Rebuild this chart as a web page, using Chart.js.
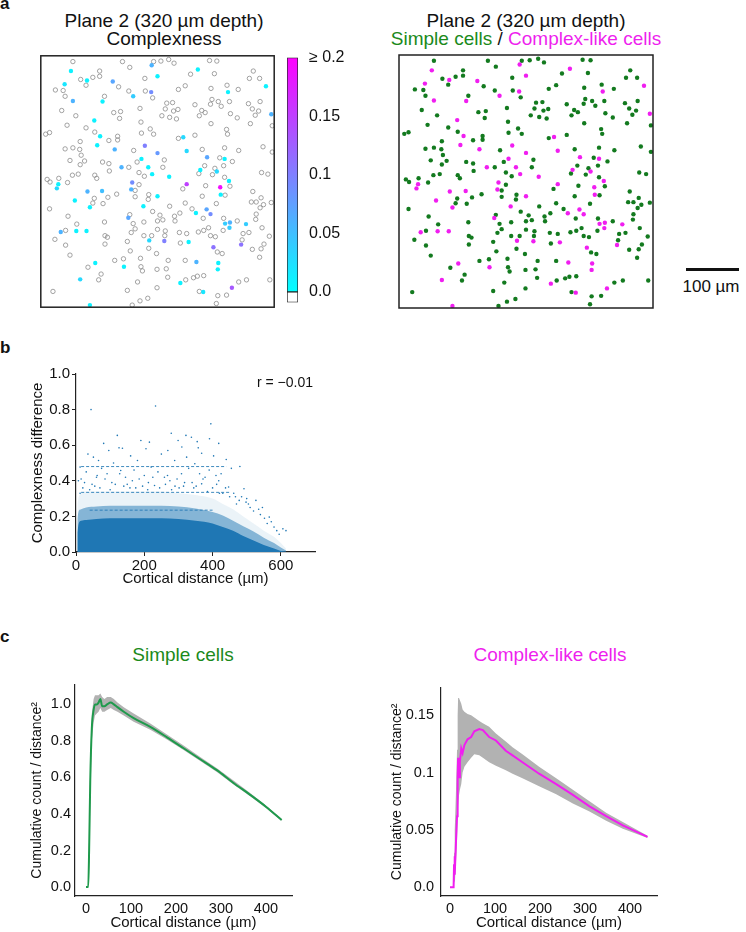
<!DOCTYPE html>
<html>
<head>
<meta charset="utf-8">
<script src="https://cdn.jsdelivr.net/npm/chart.js@4.4.1/dist/chart.umd.min.js"></script>
<style>
  body { margin: 0; background: #fff; font-family: 'Liberation Sans', Arial, sans-serif; color: #111; }
  #page { position: relative; width: 746px; height: 932px; overflow: hidden; }
  .abs { position: absolute; }
  .letter { font-weight: bold; font-size: 17px; line-height: 17px; }
  .title { font-size: 19px; line-height: 18px; text-align: center; white-space: nowrap; }
</style>
</head>
<body>
<div id="page">
  <div class="abs letter" style="left:0px;top:-5px">a</div>
  <div class="abs letter" style="left:0px;top:339px">b</div>
  <div class="abs letter" style="left:0px;top:628px">c</div>

  <div class="abs title" style="left:14px;top:12px;width:300px">Plane 2 (320 µm depth)<br>Complexness</div>
  <div class="abs title" style="left:376px;top:12px;width:300px">Plane 2 (320 µm depth)<br><span style="color:#1b8a1b">Simple cells</span> / <span style="color:#ee1fee">Complex-like cells</span></div>

  <canvas id="mapComplexness" class="abs" style="left:36px;top:51px" width="243" height="261"></canvas>
  <canvas id="colorbar" class="abs" style="left:285px;top:45px" width="60" height="270"></canvas>
  <canvas id="mapTypes" class="abs" style="left:395px;top:51px" width="262" height="261"></canvas>

  <div id="scaleBar" class="abs" style="left:686px;top:268px;height:3px;width:54px;background:#111"></div>
  <div class="abs" style="left:661px;top:278px;width:100px;text-align:center;font-size:17px;line-height:17px">100 µm</div>

  <canvas id="pairs" class="abs" style="left:0px;top:363px" width="330" height="225"></canvas>
  <div class="abs" style="left:213px;top:375px;width:100px;text-align:right;font-size:14px;line-height:14px">r = −0.01</div>

  <div class="abs title" style="left:33px;top:645px;width:300px;line-height:19px;color:#1b8a1b">Simple cells</div>
  <div class="abs title" style="left:400px;top:645px;width:300px;line-height:19px;color:#ee1fee">Complex-like cells</div>
  <canvas id="densSimple" class="abs" style="left:0px;top:672px" width="300" height="260"></canvas>
  <canvas id="densComplex" class="abs" style="left:373px;top:672px" width="300" height="260"></canvas>
</div>

<script>
// ---- panel a: cell positions in the imaging plane (µm) ----
const simpleX = [66,121,82,107,121,93,30,46,50,131,160,168,183,232,214,181,215,230,43,72,150,164,162,204,54,93,10,18,111,206,207,225,232,158,158,140,81,50,66,80,83,90,81,60,191,127,140,181,198,141,65,77,111,115,202,213,13,37,
  247,263,274,347,362,308,357,437,429,450,283,297,350,383,406,352,349,365,371,388,317,331,338,326,390,404,350,259,271,256,273,282,249,265,279,427,451,435,448,441,431,476,382,384,317,283,332,378,407,457,476,254,251,368,394,337,358,376,325,353,378,454,467,
  19,55,202,194,110,138,156,107,128,18,194,222,221,230,56,183,131,74,190,212,240,51,194,186,132,137,212,228,240,29,178,51,132,222,184,238,60,152,170,205,97,206,209,239,124,119,199,25,178,239,204,220,188,
  339,292,389,379,332,436,453,433,443,458,474,451,265,297,311,286,275,276,245,251,361,334,376,404,443,442,455,256,255,285,300,324,335,345,349,359,375,416,428,414,470,287,363,373,435,453,459,450,262,297,258,261,298,314,322,335,407,423,471,326,364,382,361];
const simpleY = [467,449,433,437,439,422,413,412,401,401,419,467,456,467,435,411,411,398,374,364,370,372,359,378,346,341,329,332,333,352,331,339,329,325,318,317,315,301,303,300,289,278,271,279,298,276,273,266,276,259,251,253,251,245,256,249,243,245,
  468,471,464,469,468,443,444,449,435,435,414,421,416,422,414,395,386,391,382,391,385,374,370,364,368,360,349,388,389,377,373,376,364,361,358,387,391,377,373,365,349,345,338,329,327,321,300,303,298,305,295,280,266,284,277,269,264,269,254,252,247,256,253,
  238,237,233,222,207,209,215,198,197,187,210,214,205,182,173,176,162,158,159,162,164,146,149,142,136,133,136,136,148,129,125,118,120,112,107,102,99,89,92,93,76,77,69,72,63,52,48,30,32,37,12,17,4,
  231,225,230,213,211,220,208,200,200,195,199,189,192,198,187,179,173,164,175,166,197,169,169,164,177,167,151,145,136,142,140,143,146,151,136,134,146,140,142,128,135,122,105,102,110,111,120,95,89,89,73,57,52,56,59,60,48,52,52,30,22,23,7];
const complexX = [62,95,49,66,127,148,228,240,190,227,110,122,116,152,214,240,166,207,221,229,
  323,463,385,474,293,300,342,378,328,362,387,264,
  36,33,188,186,96,126,101,70,240,211,180,41,73,94,223,112,171,81,101,
  300,369,370,319,341,349,379,389,388,422,254,304,355,412,320,365,364,287,393,334];
const complexY = [449,431,424,392,391,429,460,439,401,409,355,325,308,300,307,293,266,282,266,253,
  452,420,409,367,323,297,285,282,261,258,240,248,
  234,226,237,224,220,221,190,203,211,192,170,143,145,145,127,84,77,53,4,
  234,228,214,179,186,177,159,161,151,158,126,124,114,119,86,84,72,46,37,29];
const complexValue = [0.01,0.01,0.02,0.06,0.01,0.07,0.06,0.01,0.04,0.09,0.01,0.01,0.01,0.06,0.1,0.08,0.06,0.01,0.01,0.01,
  0.01,0.01,0.01,0.06,0.03,0.03,0.07,0.01,0.01,0.03,0.01,0.01,
  0.01,0.03,0.09,0.06,0.06,0.05,0.01,0.01,0.01,0.01,0.07,0.06,0.01,0.01,0.03,0.01,0.01,0.03,0.01,
  0.15,0.19,0.01,0.01,0.07,0.09,0.04,0.06,0.04,0.04,0.1,0.01,0.11,0.11,0.06,0.01,0.01,0.01,0.13,0.02];
const colorbarTicks = [0, 0.05, 0.1, 0.15, 0.2];
const colorbarLabels = ['0.0', '0.05', '0.1', '0.15', '≥ 0.2'];

// ---- panel b: pairwise complexness difference vs distance ----
const pairDist = [4, 8, 15, 30, 60, 100, 150, 200, 250, 300, 350, 400, 430, 460, 490, 520, 550, 580, 600, 615];
const pairCoreTop = [0.11, 0.16, 0.175, 0.18, 0.185, 0.19, 0.19, 0.19, 0.19, 0.185, 0.175, 0.16, 0.14, 0.12, 0.09, 0.065, 0.04, 0.02, 0.006, 0];
const pairHaloTop = [0.19, 0.23, 0.24, 0.25, 0.255, 0.26, 0.26, 0.26, 0.26, 0.255, 0.245, 0.225, 0.205, 0.175, 0.145, 0.115, 0.08, 0.05, 0.025, 0.008];
const pairOuterTop = [0.27, 0.31, 0.33, 0.34, 0.34, 0.34, 0.34, 0.34, 0.34, 0.33, 0.32, 0.3, 0.27, 0.24, 0.2, 0.16, 0.12, 0.085, 0.05, 0.02];
const sparseDist = [44,233,395,121,279,322,338,391,81,190,215,418,299,126,136,269,358,51,96,160,250,324,368,403,12,66,180,220,289,348,91,131,200,259,309,378,418,7,47,150,230,368,447,492,467,527,546,566,606,615,
  30,75,110,145,170,240,275,330,390,425,60,105,185,290,340,400,430,470,500,510,540,560,580,595,20,35,205,310,355,440,455,480,
  25,55,85,115,165,195,225,262,296,318,352,372,412,438,462,485,505,520,535,552,572,588,
  12,40,70,100,140,175,210,245,280,315,345,385,420,450,478,498,15,62,128,158,212,268,302,362,410];
const sparseDiff = [0.80,0.82,0.72,0.655,0.667,0.655,0.645,0.636,0.61,0.626,0.617,0.61,0.626,0.585,0.583,0.57,0.585,0.533,0.57,0.54,0.55,0.533,0.555,0.54,0.477,0.514,0.514,0.477,0.514,0.496,0.44,0.458,0.43,0.42,0.44,0.42,0.40,0.40,0.38,0.38,0.374,0.383,0.365,0.355,0.31,0.29,0.25,0.196,0.13,0.12,
  0.45,0.47,0.50,0.42,0.46,0.45,0.40,0.47,0.46,0.44,0.42,0.39,0.41,0.37,0.39,0.36,0.33,0.27,0.30,0.25,0.21,0.16,0.14,0.10,0.36,0.55,0.58,0.59,0.62,0.52,0.47,0.48,
  0.39,0.37,0.41,0.38,0.40,0.37,0.42,0.38,0.41,0.39,0.37,0.41,0.38,0.36,0.33,0.31,0.27,0.23,0.24,0.19,0.17,0.12,
  0.33,0.35,0.36,0.35,0.37,0.36,0.35,0.36,0.35,0.37,0.36,0.34,0.33,0.31,0.29,0.28,0.41,0.43,0.44,0.36,0.39,0.43,0.36,0.44,0.43];
const stripeDiff = [0.48, 0.335, 0.235];
const stripeFrom = [15, 15, 40];
const stripeTo = [440, 450, 400];

// ---- panel c: cumulative count / distance^2 ----
const simpleDist = [0,5,7,9.5,13,17,20,24,28,32,36,41,47,55,62,70,84,106,143,180,217,254,291,328,365,400,435];
const simpleMean = [0,0,0.2,0.58,0.87,0.97,1.0,1.0,1.01,1.03,0.99,0.99,1.0,1.01,1.0,0.985,0.96,0.925,0.877,0.82,0.76,0.70,0.64,0.57,0.505,0.44,0.367];
const simpleHigh = [0,0,0.3,0.7,0.95,1.03,1.05,1.05,1.05,1.06,1.04,1.03,1.04,1.04,1.03,1.01,0.985,0.95,0.895,0.835,0.775,0.712,0.65,0.583,0.515,0.447,0.372];
const simpleLow = [0,0,0.1,0.45,0.8,0.9,0.94,0.95,0.96,0.98,0.96,0.96,0.97,0.98,0.97,0.96,0.94,0.905,0.862,0.808,0.75,0.69,0.63,0.562,0.497,0.433,0.362];
const complexDist = [0,8,9,10,11,13,15.6,17,18,19,20,22,25,28,32,39,47,54,65,73,87,102,124,139,161,198,236,273,310,347,384,439];
const complexMean = [0,0,0.02,0.027,0.011,0.037,0.062,0.095,0.113,0.1,0.096,0.109,0.121,0.117,0.124,0.129,0.131,0.136,0.138,0.137,0.131,0.128,0.119,0.115,0.109,0.099,0.090,0.0805,0.0706,0.062,0.054,0.044];
const complexHigh = [0,0,0.03,0.04,0.05,0.08,0.12,0.15,0.165,0.165,0.165,0.165,0.16,0.155,0.153,0.151,0.15,0.148,0.145,0.143,0.14,0.134,0.127,0.122,0.116,0.105,0.095,0.085,0.075,0.065,0.057,0.045];
const complexLow = [0,0,0.005,0.01,0.005,0.02,0.04,0.06,0.07,0.075,0.08,0.085,0.09,0.1,0.105,0.109,0.113,0.116,0.115,0.113,0.109,0.106,0.102,0.099,0.095,0.088,0.081,0.073,0.066,0.058,0.051,0.043];

Chart.defaults.font.family = "'Liberation Sans', Arial, sans-serif";
Chart.defaults.color = '#111';
Chart.defaults.animation = false;
Chart.defaults.plugins.legend.display = false;
Chart.defaults.plugins.tooltip.enabled = false;

const green = '#137a1f';
const magenta = '#f01ef0';
const axisColor = '#222';

const coolColor = (v) => {
  const t = Math.min(v / 0.2, 1);
  return `rgb(${Math.round(255 * t)}, ${Math.round(255 * (1 - t))}, 255)`;
};
const pts = (xs, ys) => xs.map((x, i) => ({ x, y: ys[i] }));

const framePlugin = {
  id: 'frame',
  afterDraw(chart) {
    const { ctx, chartArea } = chart;
    ctx.save();
    ctx.strokeStyle = axisColor;
    ctx.lineWidth = 1.5;
    ctx.strokeRect(chartArea.left, chartArea.top, chartArea.right - chartArea.left, chartArea.bottom - chartArea.top);
    ctx.restore();
  }
};

const mapScales = {
  x: { type: 'linear', display: false, min: 0, max: 480 },
  y: { type: 'linear', display: false, min: 0, max: 478 },
};

// a, left: complexness map
new Chart(document.getElementById('mapComplexness'), {
  type: 'scatter',
  data: {
    datasets: [
      {
        data: pts(complexX, complexY),
        pointRadius: 2.2,
        pointBorderWidth: 0,
        pointBackgroundColor: complexValue.map(coolColor),
        clip: 0,
      },
      {
        data: pts(simpleX, simpleY),
        pointRadius: 2.2,
        pointBorderWidth: 0.8,
        pointBorderColor: '#8c8c8c',
        pointBackgroundColor: 'rgba(255,255,255,0)',
        clip: 0,
      },
    ],
  },
  options: { responsive: false, layout: { padding: 2 }, scales: mapScales },
  plugins: [framePlugin],
});

// a, colour bar
new Chart(document.getElementById('colorbar'), {
  type: 'bar',
  data: {
    labels: [''],
    datasets: [
      {
        data: [[0, 0.2]],
        backgroundColor: function(context) {
          const chart = context.chart;
          const { ctx, chartArea } = chart;
          if (!chartArea) return null;
          const y = chart.scales.y;
          const g = ctx.createLinearGradient(0, y.getPixelForValue(0), 0, y.getPixelForValue(0.2));
          g.addColorStop(0, 'rgb(0,255,255)');
          g.addColorStop(1, 'rgb(255,0,255)');
          return g;
        },
        borderColor: axisColor,
        borderWidth: 1,
        borderSkipped: false,
        grouped: false,
        barPercentage: 1,
        categoryPercentage: 1,
      },
      {
        data: [[-0.009, 0]],
        backgroundColor: '#fff',
        borderColor: axisColor,
        borderWidth: 1,
        borderSkipped: false,
        grouped: false,
        barPercentage: 1,
        categoryPercentage: 1,
      },
    ],
  },
  options: {
    responsive: false,
    layout: { padding: { left: 2, top: 8, right: 0, bottom: 8 } },
    scales: {
      x: { display: false },
      y: {
        position: 'right',
        min: -0.009,
        max: 0.2,
        grid: { display: false },
        border: { display: false },
        afterBuildTicks: (scale) => { scale.ticks = colorbarTicks.map(v => ({ value: v })); },
        afterFit: (scale) => { scale.width = 47; },
        ticks: { padding: 3, font: { size: 16 }, callback: (v, i) => colorbarLabels[i] },
      },
    },
  },
});

// a, right: simple vs complex-like map
const mapTypes = new Chart(document.getElementById('mapTypes'), {
  type: 'scatter',
  data: {
    datasets: [
      { data: pts(complexX, complexY), pointRadius: 2.2, pointBorderWidth: 0, pointBackgroundColor: magenta, clip: 0 },
      { data: pts(simpleX, simpleY), pointRadius: 2.2, pointBorderWidth: 0, pointBackgroundColor: green, clip: 0 },
    ],
  },
  options: { responsive: false, layout: { padding: 2 }, scales: mapScales },
  plugins: [framePlugin],
});
const sx = mapTypes.scales.x;
document.getElementById('scaleBar').style.width = (sx.getPixelForValue(100) - sx.getPixelForValue(0)) + 'px';

// b: complexness difference vs cortical distance
const blue = '#1f77b4';
const stripeSets = stripeDiff.map((d, i) => ({
  data: [{ x: stripeFrom[i], y: d }, { x: stripeTo[i], y: d }],
  borderColor: 'rgba(31,119,180,0.85)',
  borderWidth: 1,
  borderDash: [3, 2],
  pointRadius: 0,
  order: 0,
}));
new Chart(document.getElementById('pairs'), {
  type: 'line',
  data: {
    datasets: [
      ...stripeSets,
      { data: pts(sparseDist, sparseDiff), showLine: false, pointRadius: 0.8, pointBorderWidth: 0, pointBackgroundColor: blue, order: 1 },
      { data: pts(pairDist, pairCoreTop), borderWidth: 0, pointRadius: 0, fill: 'origin', backgroundColor: blue, order: 2 },
      { data: pts(pairDist, pairHaloTop), borderWidth: 0, pointRadius: 0, fill: 'origin', backgroundColor: 'rgba(31,119,180,0.5)', order: 3 },
      { data: pts(pairDist, pairOuterTop), borderWidth: 0, pointRadius: 0, fill: 'origin', backgroundColor: 'rgba(31,119,180,0.09)', order: 4 },
    ],
  },
  options: {
    responsive: false,
    layout: { padding: { left: 25, top: 10, right: 15, bottom: 0 } },
    elements: { line: { cubicInterpolationMode: 'monotone' } },
    scales: {
      x: {
        type: 'linear', min: 0, max: 700,
        afterBuildTicks: (scale) => { scale.ticks = [0, 200, 400, 600].map(v => ({ value: v })); },
        afterFit: (scale) => { scale.height = 36; },
        grid: { drawOnChartArea: false, tickLength: 4, color: axisColor },
        border: { color: axisColor, width: 1.2 },
        ticks: { padding: 1, font: { size: 15 }, maxRotation: 0 },
        title: { display: true, text: 'Cortical distance (µm)', font: { size: 15 }, padding: 0 },
      },
      y: {
        min: 0, max: 1,
        ticks: { stepSize: 0.2, padding: 2, font: { size: 15 }, callback: v => v.toFixed(1) },
        afterFit: (scale) => { scale.width = 51; },
        grid: { drawOnChartArea: false, tickLength: 4, color: axisColor },
        border: { color: axisColor, width: 1.2 },
        title: { display: true, text: 'Complexness difference', font: { size: 15 }, padding: { top: 4, bottom: 0 } },
      },
    },
  },
});

// c: density curves with shuffled-position band
const densityChart = (id, dist, low, high, mean, lineColor, opts) => new Chart(document.getElementById(id), {
  type: 'line',
  data: {
    datasets: [
      { data: pts(dist, mean), borderColor: lineColor, borderWidth: 2, pointRadius: 0, order: 0, cubicInterpolationMode: opts.smooth ? 'monotone' : 'default' },
      { data: pts(dist, low), borderWidth: 0, pointRadius: 0, order: 2 },
      { data: pts(dist, high), borderWidth: 0, pointRadius: 0, fill: '-1', backgroundColor: '#b2b2b2', order: 1 },
    ],
  },
  options: {
    responsive: false,
    layout: { padding: { left: opts.left, top: 10, right: opts.right, bottom: 0 } },
    scales: {
      x: {
        type: 'linear', min: opts.xMin, max: opts.xMax,
        afterBuildTicks: (scale) => { scale.ticks = [0, 100, 200, 300, 400].map(v => ({ value: v })); },
        afterFit: (scale) => { scale.height = 36; },
        grid: { drawOnChartArea: false, drawTicks: false },
        border: { color: axisColor, width: 1.2 },
        ticks: { padding: 4, font: { size: 14.5 }, maxRotation: 0 },
        title: { display: true, text: 'Cortical distance (µm)', font: { size: 15 }, padding: 0 },
      },
      y: {
        min: opts.yMin, max: opts.yMax,
        afterBuildTicks: (scale) => { scale.ticks = opts.yTicks.map(v => ({ value: v })); },
        afterFit: (scale) => { scale.width = opts.yWidth; },
        grid: { drawOnChartArea: false, drawTicks: false },
        border: { color: axisColor, width: 1.2 },
        ticks: { padding: opts.tickPad, font: { size: 14.5 }, callback: (v, i) => opts.yLabels[i] },
        title: { display: true, text: 'Cumulative count / distance²', font: { size: 14 }, padding: { top: 4, bottom: 0 } },
      },
    },
  },
});

densityChart('densSimple', simpleDist, simpleLow, simpleHigh, simpleMean, '#1f9a4c', {
  left: 25, right: 8, xMin: -24.4, xMax: 458, yMin: -0.049, yMax: 1.108, yWidth: 50, tickPad: 4, smooth: true,
  yTicks: [0, 0.2, 0.4, 0.6, 0.8, 1.0], yLabels: ['0.0', '0.2', '0.4', '0.6', '0.8', '1.0'],
});
densityChart('densComplex', complexDist, complexLow, complexHigh, complexMean, magenta, {
  left: 12, right: 16, xMin: -20, xMax: 460, yMin: -0.0076, yMax: 0.174, yWidth: 56, tickPad: 7, smooth: false,
  yTicks: [0, 0.05, 0.1, 0.15], yLabels: ['0.0', '0.05', '0.1', '0.15'],
});
</script>
</body>
</html>
